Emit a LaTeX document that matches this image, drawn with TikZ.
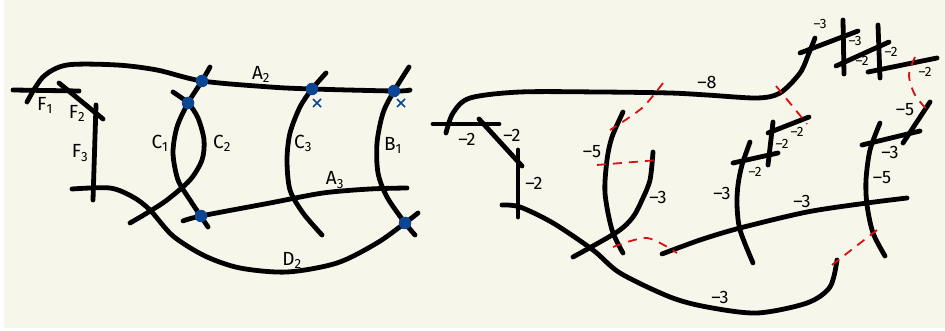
\documentclass[tikz,border=0pt]{standalone}
\usepackage{fontspec}
\setmainfont{Fira Sans}
\usepackage{tikz}
\usetikzlibrary{positioning, calc}
\definecolor{paper}{HTML}{F7F6EA}
\definecolor{dotblue}{HTML}{0B4693}
\definecolor{cutred}{HTML}{D81010}

\begin{document}
\begin{tikzpicture}[
    x=1pt, y=-1pt,
    curve/.style={line width=4.8pt, line cap=round, black},
    cutline/.style={line width=1.8pt, cutred, dash pattern=on 9pt off 7pt},
    dot/.style={circle, fill=dotblue, inner sep=0pt, minimum size=12.5pt},
    cross/.style={line width=1.6pt, dotblue},
    lbl/.style={font=\fontsize{19}{19}\selectfont, inner sep=0pt},
    wt/.style={font=\fontsize{18}{18}\selectfont, inner sep=0pt},
    wtsmall/.style={font=\fontsize{13.5}{13.5}\selectfont, inner sep=0pt}
]

% Fondo
\useasboundingbox (0,0) rectangle (945,331);
\fill[white] (0,0) rectangle (945,331);
\fill[paper] (4,0) rectangle (945,328);

% ---------------- Diagrama izquierdo ----------------
\draw[curve] plot[smooth] coordinates {(27,102) (43,77) (67,65) (117,65) (157,70) (202,81) (270,87) (312,89) (394,91) (410,90)};
\draw[curve] (13,90) -- (79,91);
\draw[curve] (59,83) -- (103,119);
\draw[curve] (96,105) -- (93,200);
\draw[curve] plot[smooth] coordinates {(72,189) (110,188) (133,197) (150,210) (173,236) (205,256) (240,268) (287,272) (337,263) (377,243) (405,223) (418,213)};
\draw[curve] plot[smooth] coordinates {(210,67) (202,81) (188,103) (177,127) (173,153) (178,180) (190,200) (200,215) (208,227)};
\draw[curve] plot[smooth] coordinates {(173,92) (188,103) (198,118) (204,140) (202,160) (190,180) (167,200) (147,213) (130,223)};
\draw[curve] plot[smooth] coordinates {(326,73) (312,89) (300,107) (290,133) (287,160) (290,190) (303,213) (322,235)};
\draw[curve] plot[smooth] coordinates {(409,67) (394,91) (383,113) (377,143) (378,173) (387,197) (405,223) (415,235)};
\draw[curve] plot[smooth] coordinates {(183,221) (201,216) (270,203) (323,193) (370,189) (407,188)};

% Puntos de corte
\foreach \x/\y/\n in {202/81/p1, 188/103/p2, 312/89/p3, 394/91/p4, 201/216/p5, 405/223/p6} {
    \node[dot] (\n) at (\x,\y) {};
}
\foreach \x/\n in {317/x1, 401/x2} {
    \coordinate (\n) at (\x,103);
    \draw[cross] ($(\n)+(-4,-4)$) -- ($(\n)+(4,4)$) ($(\n)+(-4,4)$) -- ($(\n)+(4,-4)$);
}

% Etiquetas
\node[lbl] (lF1) at (45,105) {F\textsubscript{1}};
\node[lbl] (lF2) at (77,113) {F\textsubscript{2}};
\node[lbl] (lF3) at (80,153) {F\textsubscript{3}};
\node[lbl] (lC1) at (160,143) {C\textsubscript{1}};
\node[lbl] (lC2) at (222,143) {C\textsubscript{2}};
\node[lbl] (lC3) at (303,143) {C\textsubscript{3}};
\node[lbl] (lB1) at (393,145) {B\textsubscript{1}};
\node[lbl] (lA2) at (261,74) {A\textsubscript{2}};
\node[lbl] (lA3) at (335,180) {A\textsubscript{3}};
\node[lbl] (lD2) at (292,260) {D\textsubscript{2}};

% ---------------- Diagrama derecho ----------------
\draw[curve] (433,124) -- (499,124);
\draw[curve] plot[smooth] coordinates {(446,133) (453,113) (470,98) (520,92) (600,92) (670,93) (707,95) (757,98) (780,93) (800,73) (809,53) (815,38)};
\draw[curve] (518,150) -- (518,217);
\draw[curve] (479,119) -- (522,166);
\draw[curve] plot[smooth] coordinates {(502,205) (520,207) (553,223) (593,250) (620,273) (670,297) (707,307) (757,313) (807,303) (830,287) (837,260)};
\draw[curve] plot[smooth] coordinates {(623,112) (612,137) (607,160) (605,193) (612,230) (623,253)};
\draw[curve] plot[smooth] coordinates {(653,152) (650,180) (642,200) (633,217) (617,232) (573,257)};
\draw[curve] plot[smooth] coordinates {(662,254) (700,240) (740,228) (807,212) (867,203) (907,198)};
\draw[curve] plot[smooth] coordinates {(750,142) (742,165) (738,185) (737,205) (740,230) (753,263)};
\draw[curve] (733,163) -- (778,153);
\draw[curve] (773,122) -- (768,165);
\draw[curve] (768,133) -- (809,117);
\draw[curve] plot[smooth] coordinates {(880,123) (870,150) (866,180) (867,205) (873,233) (885,256)};
\draw[curve] (930,102) -- (903,143);
\draw[curve] (862,145) -- (920,131);
\draw[curve] (800,53) -- (858,31);
\draw[curve] (843,20) -- (844,74);
\draw[curve] (836,66) -- (889,42);
\draw[curve] (878,25) -- (880,78);
\draw[curve] (868,72) -- (937,58);

% Cortes en rojo
\draw[cutline] plot[smooth] coordinates {(663,83) (642,108) (610,130)};
\draw[cutline] (597,165) -- (658,160);
\draw[cutline] plot[smooth] coordinates {(613,247) (647,238) (677,253)};
\draw[cutline] (776,86) -- (807,124);
\draw[cutline] (877,230) -- (828,268);
\draw[cutline] plot[smooth] coordinates {(915,57) (909,75) (915,95) (930,113)};

% Pesos
\node[wt] (w1) at (467,139) {\textendash2};
\node[wt] (w2) at (512,135) {\textendash2};
\node[wt] (w3) at (534,183) {\textendash2};
\node[wt] (w4) at (707,82) {\textendash8};
\node[wt] (w5) at (592,152) {\textendash5};
\node[wt] (w6) at (658,197) {\textendash3};
\node[wt] (w7) at (720,297) {\textendash3};
\node[wt] (w8) at (722,193) {\textendash3};
\node[wt] (w9) at (802,201) {\textendash3};
\node[wt] (w10) at (882,178) {\textendash5};
\node[wt] (w11) at (890,152) {\textendash3};
\node[wt] (w12) at (905,110) {\textendash5};
\node[wtsmall] (w13) at (755,172) {\textendash2};
\node[wtsmall] (w14) at (782,144) {\textendash2};
\node[wtsmall] (w15) at (797,132) {\textendash2};
\node[wtsmall] (w16) at (820,24) {\textendash3};
\node[wtsmall] (w17) at (855,41) {\textendash3};
\node[wtsmall] (w18) at (862,61) {\textendash2};
\node[wtsmall] (w19) at (891,52) {\textendash2};
\node[wtsmall] (w20) at (925,72) {\textendash2};

\end{tikzpicture}
\end{document}
